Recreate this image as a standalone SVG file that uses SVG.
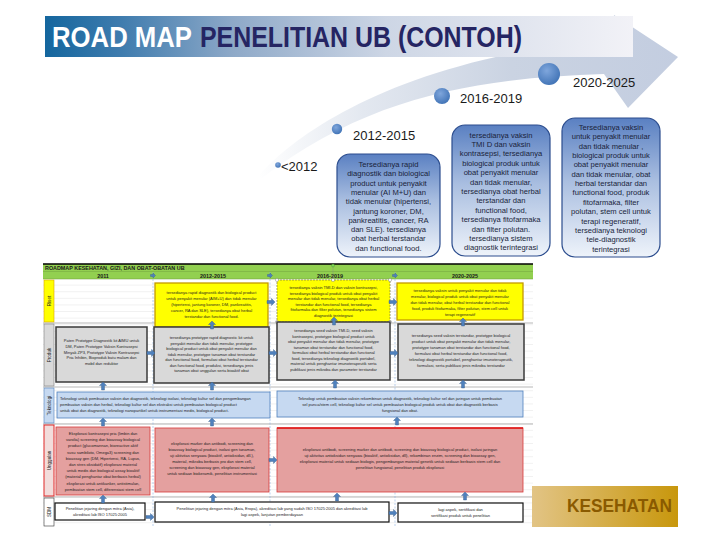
<svg xmlns="http://www.w3.org/2000/svg" width="720" height="540" viewBox="0 0 720 540">
<defs>
<linearGradient id="gBanner" x1="0" y1="0" x2="1" y2="0">
<stop offset="0" stop-color="#14669e"/><stop offset="0.13" stop-color="#3f7cae"/><stop offset="0.32" stop-color="#8ea9c8"/><stop offset="0.58" stop-color="#cdd6e5"/><stop offset="1" stop-color="#f2f2f7"/>
</linearGradient>
<linearGradient id="gBand" gradientUnits="userSpaceOnUse" x1="258" y1="0" x2="680" y2="0">
<stop offset="0" stop-color="#ffffff"/><stop offset="0.25" stop-color="#e3e8f0"/><stop offset="0.6" stop-color="#cad3e2"/><stop offset="1" stop-color="#c3cde0"/>
</linearGradient>
<linearGradient id="gBox" x1="0" y1="0" x2="0" y2="1">
<stop offset="0" stop-color="#5a80c2"/><stop offset="0.45" stop-color="#a9bee0"/><stop offset="1" stop-color="#eef3fa"/>
</linearGradient>
<radialGradient id="gDot" cx="0.4" cy="0.35" r="0.7">
<stop offset="0" stop-color="#7fa6dc"/><stop offset="1" stop-color="#3f72b5"/>
</radialGradient>
<linearGradient id="gKes" x1="0" y1="0" x2="1" y2="0">
<stop offset="0" stop-color="#e2c485"/><stop offset="1" stop-color="#c8970c"/>
</linearGradient>
<pattern id="grid" width="10" height="6.6" patternUnits="userSpaceOnUse" y="279">
<path d="M0 6.3 H10" stroke="#dedede" stroke-width="0.5"/>
</pattern>
<path id="ua" d="M0,-4 L3.5,-0.5 L1.5,-0.5 L1.5,4 L-1.5,4 L-1.5,-0.5 L-3.5,-0.5 Z"/>
<path id="ra" d="M4,0 L0.5,-3.5 L0.5,-1.5 L-4,-1.5 L-4,1.5 L0.5,1.5 L0.5,3.5 Z"/>
<path id="sa" d="M2.5,0 L0,-2.5 L0,-1 L-2.5,-1 L-2.5,1 L0,1 L0,2.5 Z"/>
</defs>
<style>
.bt{font-family:"Liberation Sans",Arial,sans-serif;font-size:7.6px;fill:#1a1f3a;text-anchor:middle}
.yr{font-family:"Liberation Sans",Arial,sans-serif;font-size:13px;fill:#1a1a1a}
.tt{font-family:"Liberation Sans",Arial,sans-serif;font-size:4px;fill:#1e1e1e;text-anchor:middle}
.tl{font-family:"Liberation Sans",Arial,sans-serif;font-size:4px;fill:#1e1e1e}
.hd{font-family:"Liberation Sans",Arial,sans-serif;font-size:5.4px;font-weight:bold;fill:#1a1a1a}
.lb{font-family:"Liberation Sans",Arial,sans-serif;font-size:4.6px;fill:#222;text-anchor:middle}
.ti{font-family:"Liberation Sans",Arial,sans-serif;font-size:29px;font-weight:bold}
.rbox{stroke:#2c4d8e;stroke-width:1.2;fill:url(#gBox)}
.arw{fill:#4f81bd;stroke:#385d8a;stroke-width:0.4}
.yel{fill:#ffff00;stroke:#c49a00;stroke-width:1.3}
.gry{fill:#d9d9d9;stroke:#3a3a3a;stroke-width:1.5}
.tek{fill:#c6d9f1;stroke:#4f81bd;stroke-width:0.8}
.red{fill:#e4a09f;stroke:#d83a3a;stroke-width:0.8}
.sdm{fill:#ffffff;stroke:#111;stroke-width:1.2}
</style>

<!-- curved arrow band -->
<g id="timeline-arrow">
<path d="M258,176 C300,130 400,60 612,38 L614,15 L678,57 L628,108 L604,74 C480,78 370,95 262,178 Z" fill="url(#gBand)"/>
</g>

<!-- title banner -->
<g id="title">
<rect x="45" y="16" width="588" height="41" fill="url(#gBanner)"/>
<text class="ti" x="52" y="47" fill="#ffffff" textLength="140" lengthAdjust="spacingAndGlyphs">ROAD MAP</text>
<text class="ti" x="200" y="47" fill="#252563" textLength="322" lengthAdjust="spacingAndGlyphs">PENELITIAN UB (CONTOH)</text>
</g>

<!-- milestones -->
<g id="m2012">
<circle cx="278" cy="165" r="2.8" fill="url(#gDot)"/>
<text class="yr" x="281" y="171">&lt;2012</text>
</g>
<g id="m2015">
<circle cx="337" cy="129" r="5.2" fill="url(#gDot)"/>
<text class="yr" x="353" y="140">2012-2015</text>
<rect class="rbox" x="337" y="154" width="103" height="103" rx="13"/>
<text class="bt" x="388.5" y="167"><tspan x="388.5" dy="0">Tersedianya rapid</tspan><tspan x="388.5" dy="9.3">diagnostik dan biological</tspan><tspan x="388.5" dy="9.3">product untuk penyakit</tspan><tspan x="388.5" dy="9.3">menular (AI M+U) dan</tspan><tspan x="388.5" dy="9.3">tidak menular (hipertensi,</tspan><tspan x="388.5" dy="9.3">jantung koroner, DM,</tspan><tspan x="388.5" dy="9.3">pankreatitis, cancer, RA</tspan><tspan x="388.5" dy="9.3">dan SLE). tersedianya</tspan><tspan x="388.5" dy="9.3">obat herbal terstandar</tspan><tspan x="388.5" dy="9.3">dan functional food.</tspan></text>
</g>
<g id="m2019">
<circle cx="442" cy="96" r="8" fill="url(#gDot)"/>
<text class="yr" x="460" y="103">2016-2019</text>
<rect class="rbox" x="452" y="125" width="98" height="131" rx="13"/>
<text class="bt" x="501" y="137.5"><tspan x="501" dy="0">tersedianya vaksin</tspan><tspan x="501" dy="9.4">TMI D dan vaksin</tspan><tspan x="501" dy="9.4">kontrasepsi, tersedianya</tspan><tspan x="501" dy="9.4">biological produk untuk</tspan><tspan x="501" dy="9.4">obat penyakit menular</tspan><tspan x="501" dy="9.4">dan tidak menular,</tspan><tspan x="501" dy="9.4">tersedianya obat herbal</tspan><tspan x="501" dy="9.4">terstandar dan</tspan><tspan x="501" dy="9.4">functional food,</tspan><tspan x="501" dy="9.4">tersedianya fitofarmaka</tspan><tspan x="501" dy="9.4">dan filter polutan.</tspan><tspan x="501" dy="9.4">tersedianya sistem</tspan><tspan x="501" dy="9.4">diagnostik terintegrasi</tspan></text>
</g>
<g id="m2025">
<circle cx="549" cy="74" r="11" fill="url(#gDot)"/>
<text class="yr" x="573" y="87">2020-2025</text>
<rect class="rbox" x="562" y="118" width="98" height="139" rx="13"/>
<text class="bt" x="611" y="130"><tspan x="611" dy="0">Tersedianya vaksin</tspan><tspan x="611" dy="9.35">untuk penyakit menular</tspan><tspan x="611" dy="9.35">dan tidak menular ,</tspan><tspan x="611" dy="9.35">biological produk untuk</tspan><tspan x="611" dy="9.35">obat penyakit menular</tspan><tspan x="611" dy="9.35">dan tidak menular, obat</tspan><tspan x="611" dy="9.35">herbal terstandar dan</tspan><tspan x="611" dy="9.35">functional food, produk</tspan><tspan x="611" dy="9.35">fitofarmaka,  filter</tspan><tspan x="611" dy="9.35">polutan, stem cell untuk</tspan><tspan x="611" dy="9.35">terapi regeneratif,</tspan><tspan x="611" dy="9.35">tersedianya teknologi</tspan><tspan x="611" dy="9.35">tele-diagnostik</tspan><tspan x="611" dy="9.35">terintegrasi</tspan></text>
</g>

<!-- table frame -->
<g id="table-frame">
<rect x="43" y="279" width="490" height="248" fill="url(#grid)"/>
<rect x="43" y="264" width="490" height="15" fill="#92d050"/>
<line x1="43" y1="264" x2="533" y2="264" stroke="#000" stroke-width="1.6"/>
<line x1="43" y1="271.5" x2="533" y2="271.5" stroke="#6a9a3a" stroke-width="0.4"/>
<line x1="43" y1="279" x2="533" y2="279" stroke="#6a9a3a" stroke-width="0.5"/>
<text class="hd" x="45" y="269.8">ROADMAP KESEHATAN, GIZI, DAN OBAT-OBATAN UB</text>
<text class="hd" x="103" y="277.5" text-anchor="middle">2011</text>
<text class="hd" x="213" y="277.5" text-anchor="middle">2012-2015</text>
<text class="hd" x="330" y="277.5" text-anchor="middle">2016-2019</text>
<text class="hd" x="465" y="277.5" text-anchor="middle">2020-2025</text>
<g stroke="#9a9a9a" stroke-width="0.7">
<line x1="43" y1="323" x2="533" y2="323"/><line x1="43" y1="387" x2="533" y2="387"/><line x1="43" y1="424" x2="533" y2="424"/><line x1="43" y1="497" x2="533" y2="497"/>
</g>
<g stroke="#8db3e2" stroke-width="0.6" stroke-dasharray="2,1.5">
<line x1="153" y1="272" x2="153" y2="527"/><line x1="270" y1="272" x2="270" y2="527"/><line x1="395" y1="272" x2="395" y2="527"/>
</g>
</g>

<!-- row labels -->
<g id="lbl-riset"><rect x="44" y="280" width="10" height="42" fill="#ffff00" stroke="#d9a400" stroke-width="0.6"/><text class="lb" transform="translate(50.5,301) rotate(-90)">Riset</text></g>
<g id="lbl-produk"><rect x="44" y="324" width="10" height="62" fill="#d9d9d9" stroke="#7f7f7f" stroke-width="0.6"/><text class="lb" transform="translate(50.5,355) rotate(-90)">Produk</text></g>
<g id="lbl-teknologi"><rect x="44" y="388" width="10" height="35" fill="#c6d9f1" stroke="#4f81bd" stroke-width="0.6"/><text class="lb" transform="translate(50.5,405.5) rotate(-90)">Teknologi</text></g>
<g id="lbl-unggulan"><rect x="44" y="425" width="10" height="71" fill="#f2dcdb" stroke="#e02828" stroke-width="1"/><text class="lb" transform="translate(50.5,460.5) rotate(-90)">Unggulan</text></g>
<g id="lbl-sdm"><rect x="44" y="498" width="10" height="28" fill="#ffffff" stroke="#333" stroke-width="0.6"/><text class="lb" transform="translate(50.5,512) rotate(-90)">SDM</text></g>

<!-- Riset row -->
<g id="riset-2015">
<rect class="yel" x="155" y="283" width="113" height="44"/>
<text class="tt" x="211.5" y="294"><tspan x="211.5" dy="0">tersedianya rapid diagnostik dan biological product</tspan><tspan x="211.5" dy="6">untuk penyakit menular (AIM+U) dan tidak menular</tspan><tspan x="211.5" dy="6">(hipertensi, jantung koroner, DM, pankreatitis,</tspan><tspan x="211.5" dy="6">cancer, RA dan SLE), tersedianya obat herbal</tspan><tspan x="211.5" dy="6">terstandar dan functional food.</tspan></text>
</g>
<g id="riset-2019">
<rect x="277" y="280" width="113" height="42" fill="#ffff00" stroke="#8a8a3a" stroke-width="0.8" stroke-dasharray="2,1"/>
<text class="tt" x="333.5" y="289"><tspan x="333.5" dy="0">tersedianya vaksin TMI-D dan vaksin kontrasepsi,</tspan><tspan x="333.5" dy="5.6">tersedianya biological produk untuk obat penyakit</tspan><tspan x="333.5" dy="5.6">menular dan tidak menular, tersedianya obat herbal</tspan><tspan x="333.5" dy="5.6">terstandar dan functional food, tersedianya</tspan><tspan x="333.5" dy="5.6">fitofarmaka dan filter polutan, tersedianya sistem</tspan><tspan x="333.5" dy="5.6">diagnostik terintegrasi</tspan></text>
<g fill="#ffffff" stroke="#8a8a8a" stroke-width="0.5">
<circle cx="277" cy="280" r="1.6"/><circle cx="390" cy="280" r="1.6"/><circle cx="277" cy="322" r="1.6"/><circle cx="390" cy="322" r="1.6"/>
<rect x="331.8" y="278.8" width="2.4" height="2.4"/><rect x="331.8" y="320.8" width="2.4" height="2.4"/>
</g>
<line x1="333" y1="266" x2="333" y2="279" stroke="#8a8a8a" stroke-width="0.4"/>
<circle cx="333" cy="265.5" r="1.5" fill="#7ed957" stroke="#4a8a2a" stroke-width="0.4"/>
</g>
<g id="riset-2025">
<rect class="yel" x="397" y="283" width="126" height="37"/>
<text class="tt" x="460" y="291.5"><tspan x="460" dy="0">tersedianya vaksin untuk penyakit menular dan tidak</tspan><tspan x="460" dy="6">menular, biological produk untuk obat penyakit menular</tspan><tspan x="460" dy="6">dan tidak menular, obat herbal terstandar dan functional</tspan><tspan x="460" dy="6">food, produk fitofarmaka, filter polutan, stem cell untuk</tspan><tspan x="460" dy="6">terapi regeneratif</tspan></text>
</g>

<!-- Produk row -->
<g id="produk-2011">
<rect class="gry" x="56" y="327" width="91" height="55"/>
<text class="tt" x="101.5" y="342"><tspan x="101.5" dy="0">Paten Prototype Diagnostik kit AIMU untuk</tspan><tspan x="101.5" dy="5.8">DM, Paten Prototype Vaksin Kontrasepsi</tspan><tspan x="101.5" dy="5.8">Minyak ZP3, Prototype Vaksin Kontrasepsi</tspan><tspan x="101.5" dy="5.8">Pria Inhibin, Bioproduk batu malam dan</tspan><tspan x="101.5" dy="5.8">mobil dan reduktor</tspan></text>
</g>
<g id="produk-2015">
<rect class="gry" x="154" y="327" width="115" height="56"/>
<text class="tt" x="211.5" y="339"><tspan x="211.5" dy="0">tersedianya prototype rapid diagnostic kit untuk</tspan><tspan x="211.5" dy="5.5">penyakit menular dan tidak menular, prototype</tspan><tspan x="211.5" dy="5.5">biological product untuk obat penyakit menular dan</tspan><tspan x="211.5" dy="5.5">tidak menular, prototype tanaman obat terstandar</tspan><tspan x="211.5" dy="5.5">dan functional food, formulasi obat herbal terstandar</tspan><tspan x="211.5" dy="5.5">dan functional food, produksi, tersedianya jenis</tspan><tspan x="211.5" dy="5.5">tanaman obat unggulan serta bioaktif obat</tspan></text>
</g>
<g id="produk-2019">
<rect class="gry" x="277" y="322" width="113" height="58"/>
<text class="tt" x="333.5" y="332"><tspan x="333.5" dy="0">tersedianya seed vaksin TMI-D, seed vaksin</tspan><tspan x="333.5" dy="5.5">kontrasepsi, prototype biological product untuk</tspan><tspan x="333.5" dy="5.5">obat penyakit menular dan tidak menular, prototype</tspan><tspan x="333.5" dy="5.5">tanaman obat terstandar dan functional food,</tspan><tspan x="333.5" dy="5.5">formulasi obat herbal terstandar dan functional</tspan><tspan x="333.5" dy="5.5">food, tersedianya teknologi diagnostik portabel,</tspan><tspan x="333.5" dy="5.5">material untuk penghantar imunoterapeutik serta</tspan><tspan x="333.5" dy="5.5">publikasi jenis mikroba dan parameter terstandar</tspan></text>
</g>
<g id="produk-2025">
<rect class="gry" x="398" y="324" width="126" height="56"/>
<text class="tt" x="461" y="337"><tspan x="461" dy="0">tersedianya seed vaksin terstandar, prototype biological</tspan><tspan x="461" dy="6">product untuk obat penyakit menular dan tidak menular,</tspan><tspan x="461" dy="6">prototype tanaman obat terstandar dan functional food,</tspan><tspan x="461" dy="6">formulasi obat herbal terstandar dan functional food,</tspan><tspan x="461" dy="6">teknologi diagnostik portabel, penghantar imunoterapeutik,</tspan><tspan x="461" dy="6">formulasi, serta publikasi jenis mikroba terstandar</tspan></text>
</g>

<!-- Teknologi row -->
<g id="tek-2015">
<rect class="tek" x="57" y="392" width="213" height="26"/>
<text class="tl" x="60" y="400"><tspan x="60" dy="0">Teknologi untuk pembuatan vaksin dan diagnostik, teknologi isolasi, teknologi kultur sel dan pengembangan</tspan><tspan x="60" dy="6">pembuatan vaksin dan herbal, teknologi kultur sel dan ekstraksi untuk pembuatan biological product</tspan><tspan x="60" dy="6">untuk obat dan diagnostik, teknologi nanopartikel untuk instrumentasi medis, biological product.</tspan></text>
</g>
<g id="tek-2025">
<rect class="tek" x="277" y="391" width="246" height="26"/>
<text class="tt" x="400" y="400"><tspan x="400" dy="0">Teknologi untuk pembuatan vaksin rekombinan untuk diagnostik, teknologi kultur sel dan jaringan untuk pembuatan</tspan><tspan x="400" dy="6">sel punca/stem cell, teknologi kultur sel untuk pembuatan biological produk untuk obat dan diagnostik berbasis</tspan><tspan x="400" dy="6">fungsional dan obat.</tspan></text>
</g>

<!-- Unggulan row -->
<g id="ung-2011">
<rect class="red" x="56" y="427" width="94" height="68"/>
<text class="tt" x="103" y="435"><tspan x="103" dy="0">Eksplorasi kontrasepsi pria (limbin dan</tspan><tspan x="103" dy="6.2">varolia) screening dan bioassay biological</tspan><tspan x="103" dy="6.2">product (glucomannan, bioreactive aktif</tspan><tspan x="103" dy="6.2">susu sambiloto, Omega3) screening dan</tspan><tspan x="103" dy="6.2">bioassay gen (DM, Hipertensi, RA, Lupus,</tspan><tspan x="103" dy="6.2">dan stres oksidatif) eksplorasi material</tspan><tspan x="103" dy="6.2">untuk medis dan biological assay bioaktif</tspan><tspan x="103" dy="6.2">(material penghantar obat berbasis herbal)</tspan><tspan x="103" dy="6.2">eksplorasi untuk antikanker, antistimulan,</tspan><tspan x="103" dy="6.2">pembuatan stem cell, diferensiasi stem cell</tspan></text>
</g>
<g id="ung-2015">
<rect class="red" x="155" y="428" width="114" height="64"/>
<text class="tt" x="212" y="445"><tspan x="212" dy="0">eksplorasi marker dan antibodi, screening dan</tspan><tspan x="212" dy="6">bioassay biological product, isolasi gen tanaman,</tspan><tspan x="212" dy="6">uji aktivitas senyawa (bioaktif, antioksidan, dll.),</tspan><tspan x="212" dy="6">material, mikroba berbasis pro dan stem cell,</tspan><tspan x="212" dy="6">screening dan bioassay gen, eksplorasi material</tspan><tspan x="212" dy="6">untuk sediaan biokeramik, penelitian instrumentasi</tspan></text>
</g>
<g id="ung-2025">
<rect class="red" x="277" y="428" width="246" height="64"/>
<line x1="277" y1="428" x2="523" y2="428" stroke="#e01010" stroke-width="1.4"/>
<text class="tt" x="400" y="451"><tspan x="400" dy="0">eksplorasi antibodi, screening marker dan antibodi, screening dan bioassay biological product, isolasi jaringan</tspan><tspan x="400" dy="6">uji aktivitas antioksidan senyawa (bioaktif, antioksidan, dll), rekombinan enzim, screening dan bioassay gen,</tspan><tspan x="400" dy="6">eksplorasi material untuk sediaan biologis, pengembangan material genetik untuk sediaan berbasis stem cell dan</tspan><tspan x="400" dy="6">penelitian fungsional, penelitian produk eksplorasi</tspan></text>
</g>

<!-- SDM row -->
<g id="sdm-2011">
<rect class="sdm" x="55" y="503" width="90" height="17"/>
<text class="tt" x="100" y="510"><tspan x="100" dy="0">Penelitian jejaring dengan mitra (Asia),</tspan><tspan x="100" dy="6">akreditasi lab ISO 17025:2005</tspan></text>
</g>
<g id="sdm-2019">
<rect class="sdm" x="155" y="502" width="234" height="20"/>
<text class="tt" x="272" y="510"><tspan x="272" dy="0">Penelitian jejaring dengan mitra (Asia, Eropa), akreditasi lab yang sudah ISO 17025:2005 dan akreditasi lab</tspan><tspan x="272" dy="6">lagi aspek, lanjutan pemberdayaan</tspan></text>
</g>
<g id="sdm-2025">
<rect class="sdm" x="398" y="503" width="125" height="19"/>
<text class="tt" x="460.5" y="511"><tspan x="460.5" dy="0">lagi aspek, sertifikasi dan</tspan><tspan x="460.5" dy="6">sertifikasi produk untuk penelitian</tspan></text>
</g>

<!-- connectors -->
<g id="connectors" class="arw">
<use href="#sa" x="153" y="275.5"/><use href="#sa" x="270" y="275.5"/><use href="#sa" x="395" y="275.5"/>
<use href="#ra" x="271" y="302"/><use href="#ra" x="393" y="302"/>
<use href="#ra" x="151" y="353"/><use href="#ra" x="273" y="353"/><use href="#ra" x="394" y="353"/>
<use href="#ra" x="273" y="460"/>
<use href="#ra" x="150" y="517"/><use href="#ra" x="393" y="513"/>
<use href="#ua" x="212" y="325"/><use href="#ua" x="334" y="321"/><use href="#ua" x="463" y="322"/>
<use href="#ua" x="103" y="386"/><use href="#ua" x="212" y="386"/><use href="#ua" x="335" y="384"/><use href="#ua" x="463" y="384"/>
<use href="#ua" x="103" y="422"/><use href="#ua" x="212" y="422"/><use href="#ua" x="397" y="421"/>
<use href="#ua" x="103" y="499"/><use href="#ua" x="213" y="498"/><use href="#ua" x="337" y="497"/><use href="#ua" x="465" y="496"/>
</g>

<!-- KESEHATAN badge -->
<g id="kesehatan">
<rect x="532" y="486" width="146" height="41" fill="url(#gKes)"/>
<text x="567" y="512" font-family="'Liberation Sans',Arial,sans-serif" font-size="18" font-weight="bold" fill="#8a5a00" textLength="105" lengthAdjust="spacingAndGlyphs">KESEHATAN</text>
</g>
</svg>
